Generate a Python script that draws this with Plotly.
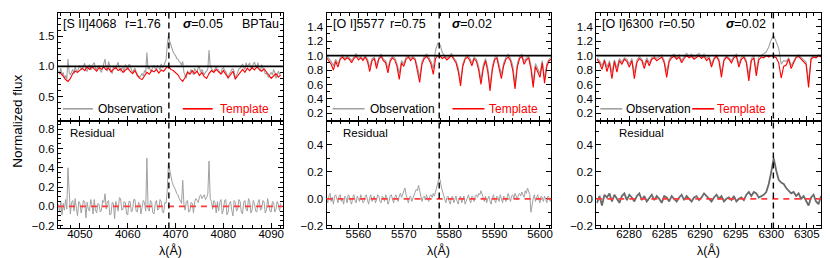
import numpy as np
import plotly.graph_objects as go

# ---------------- data ----------------
# Panel 1: [S II] 4068
obs1_start, obs1_step = 4045.5, 0.25
obs1 = [0.93, 0.88, 0.97, 0.85, 0.90, 0.80, 0.85, 0.78, 1.12, 0.90,
        0.86, 0.92, 0.95, 0.88, 0.99, 0.93, 0.91, 0.97, 1.02, 0.95,
        0.96, 1.01, 1.05, 0.93, 0.92, 0.99, 1.03, 0.94, 0.97, 1.04,
        1.06, 0.97, 0.94, 1.00, 1.01, 0.93, 0.90, 0.98, 1.04, 1.12,
        0.97, 0.92, 1.08, 0.99, 0.93, 0.88, 1.00, 0.96, 0.96, 1.02,
        1.07, 0.95, 0.92, 0.97, 0.98, 0.90, 1.03, 0.98, 0.95, 1.03,
        1.02, 0.95, 0.90, 0.94, 0.97, 0.91, 0.86, 0.83, 0.82, 0.86,
        0.88, 0.84, 0.93, 0.90, 1.23, 0.95, 0.99, 0.93, 0.94, 0.98,
        1.02, 0.96, 0.95, 1.01, 0.99, 0.94, 1.04, 0.98, 1.00, 1.06,
        1.10, 1.35, 1.50, 1.42, 1.35, 1.28, 1.24, 1.20, 1.18, 1.13,
        1.12, 1.08, 1.06, 1.02, 1.08, 0.90, 0.85, 0.80, 0.93, 0.88,
        0.90, 0.95, 0.90, 0.86, 0.97, 0.92, 0.91, 0.98, 0.98, 0.90,
        0.95, 0.91, 0.86, 0.90, 0.92, 0.96, 1.27, 1.00, 0.96, 0.93,
        0.92, 0.97, 1.00, 0.95, 0.94, 0.90, 0.89, 0.96, 0.98, 0.94,
        0.92, 0.86, 0.80, 0.88, 0.90, 0.95, 0.96, 0.92, 0.78, 0.85,
        0.91, 0.96, 0.97, 1.02, 1.04, 0.98, 0.95, 1.06, 0.99, 1.03,
        1.05, 0.98, 0.97, 1.04, 1.07, 1.01, 1.00, 1.06, 0.95, 0.92,
        1.03, 0.97, 0.94, 0.88, 0.88, 0.84, 0.82, 0.87, 0.90, 0.86,
        0.95, 0.90, 0.80, 0.85, 0.92, 0.87, 0.90]
tmpl1_start, tmpl1_step = 4045.5, 0.5
tmpl1 = [0.90, 0.88, 0.84, 0.78, 0.75, 0.80, 0.88, 0.92, 0.90, 0.94,
         0.97, 0.93, 0.99, 0.95, 1.00, 0.96, 0.92, 0.98, 0.95, 0.99,
         0.94, 0.97, 0.91, 0.95, 0.98, 0.93, 0.96, 0.90, 0.94, 0.97,
         0.92, 0.88, 0.93, 0.85, 0.80, 0.78, 0.84, 0.90, 0.87, 0.93,
         0.91, 0.95, 0.89, 0.94, 0.92, 0.97, 1.00, 0.95, 0.93, 0.90,
         0.86, 0.79, 0.75, 0.82, 0.90, 0.87, 0.93, 0.88, 0.92, 0.85,
         0.90, 0.83, 0.80, 0.88, 0.93, 0.90, 0.95, 0.91, 0.87, 0.93,
         0.88, 0.81, 0.86, 0.92, 0.79, 0.85, 0.91, 0.95, 0.90, 0.97,
         0.93, 0.98, 0.94, 0.99, 0.95, 0.92, 0.96, 0.90, 0.85, 0.80,
         0.84, 0.88, 0.82, 0.86]
res1_start, res1_step = 4045.5, 0.25
res1 = [0.02, -0.06, 0.05, -0.09, 0.03, -0.04, 0.07, -0.03, 0.40, 0.05,
        -0.08, 0.04, 0.06, -0.05, 0.08, -0.02, -0.10, 0.05, 0.03, -0.07,
        -0.02, 0.06, 0.05, -0.12, 0.04, -0.03, -0.05, 0.07, 0.02, -0.08,
        0.07, -0.04, -0.07, 0.03, 0.02, -0.06, -0.04, 0.06, 0.04, 0.13,
        -0.03, 0.05, 0.06, -0.09, -0.08, 0.04, 0.03, -0.13, 0.05, -0.02,
        -0.05, 0.09, 0.08, -0.04, -0.03, 0.05, 0.04, -0.08, -0.09, 0.05,
        0.05, -0.06, -0.04, 0.07, 0.07, -0.05, -0.06, 0.04, 0.03, -0.08,
        -0.02, 0.06, 0.04, -0.05, 0.50, -0.03, -0.05, 0.06, 0.04, -0.07,
        -0.08, 0.03, 0.06, -0.04, -0.03, 0.07, 0.05, -0.06, -0.07, 0.04,
        0.03, 0.15, 0.45, 0.38, 0.30, 0.26, 0.22, 0.20, 0.17, 0.13,
        0.12, 0.08, 0.06, 0.03, 0.27, 0.02, -0.04, 0.05, 0.06, -0.06,
        -0.05, 0.04, 0.03, -0.07, 0.05, 0.08, 0.06, 0.04, 0.10, 0.12,
        0.08, 0.10, 0.12, 0.07, 0.09, 0.13, 0.47, 0.08, 0.05, -0.03,
        0.06, 0.04, -0.07, 0.05, -0.05, 0.04, 0.07, -0.08, -0.04, 0.06,
        0.07, -0.09, -0.06, 0.03, 0.05, -0.04, -0.10, 0.06, 0.04, -0.05,
        -0.03, 0.07, 0.05, -0.06, -0.08, 0.04, 0.06, -0.03, -0.05, 0.08,
        0.05, -0.07, -0.04, 0.06, 0.03, -0.05, -0.06, 0.04, 0.07, -0.04,
        -0.03, 0.06, 0.05, -0.07, -0.04, 0.08, 0.03, -0.05, -0.06, 0.05,
        0.04, -0.06, -0.03, 0.05, 0.02, -0.05, 0.03]

# Panel 2: [O I] 5577
obs2_start, obs2_step = 5553.0, 0.5
obs2 = [1.00, 0.96, 0.92, 0.86, 0.95, 0.88, 0.97, 1.01, 0.96, 0.99,
        0.97, 0.93, 0.99, 1.03, 0.97, 0.99, 0.95, 1.00, 0.95, 0.84,
        0.96, 0.98, 0.87, 0.97, 1.02, 0.95, 0.93, 0.82, 0.95, 0.99,
        0.97, 0.89, 0.75, 0.93, 0.89, 0.98, 1.00, 0.96, 0.99, 0.96,
        0.85, 0.70, 0.92, 0.99, 1.02, 0.98, 0.92, 0.82, 1.08, 1.17,
        1.15, 1.04, 1.00, 0.97, 0.99, 1.03, 0.97, 0.93, 0.83, 0.64,
        0.89, 0.97, 1.01, 0.97, 0.90, 0.98, 0.95, 0.85, 0.66, 0.87,
        0.96, 0.83, 0.58, 0.85, 0.97, 1.00, 0.87, 0.74, 0.90, 0.98,
        1.02, 0.96, 0.86, 0.60, 0.89, 0.99, 1.02, 0.92, 0.97, 1.00,
        0.87, 0.62, 0.89, 0.82, 0.75, 0.93, 0.68, 0.89, 0.95, 0.98]
tmpl2_start, tmpl2_step = 5553.0, 0.5
tmpl2 = [0.97, 0.93, 0.88, 0.80, 0.92, 0.84, 0.95, 0.98, 0.94, 0.97,
         0.95, 0.90, 0.96, 0.99, 0.94, 0.97, 0.93, 0.98, 0.92, 0.78,
         0.93, 0.96, 0.82, 0.95, 0.99, 0.93, 0.90, 0.76, 0.92, 0.97,
         0.94, 0.85, 0.67, 0.90, 0.85, 0.95, 0.98, 0.93, 0.97, 0.94,
         0.80, 0.63, 0.88, 0.96, 0.99, 0.95, 0.88, 0.74, 0.96, 1.00,
         0.99, 0.96, 0.98, 0.94, 0.97, 1.00, 0.95, 0.90, 0.78, 0.58,
         0.85, 0.95, 0.98, 0.94, 0.86, 0.96, 0.92, 0.80, 0.60, 0.82,
         0.93, 0.78, 0.51, 0.80, 0.94, 0.97, 0.82, 0.68, 0.86, 0.95,
         0.98, 0.93, 0.80, 0.54, 0.84, 0.96, 0.99, 0.88, 0.94, 0.97,
         0.82, 0.56, 0.85, 0.78, 0.70, 0.90, 0.62, 0.85, 0.93, 0.95]
res2_start, res2_step = 5553.0, 0.25
res2 = [0.01, -0.03, 0.02, 0.04, -0.02, 0.01, -0.04, 0.02, 0.03, -0.01,
        -0.03, 0.02, 0.03, -0.02, 0.00, -0.04, 0.02, 0.01, -0.03, 0.03,
        0.02, -0.02, -0.04, 0.01, 0.03, -0.01, -0.03, 0.02, 0.00, -0.02,
        0.03, 0.01, -0.03, -0.02, 0.02, 0.03, -0.01, -0.04, 0.01, 0.03,
        -0.02, 0.01, 0.02, -0.03, -0.01, 0.03, 0.02, -0.02, -0.03, 0.02,
        0.01, -0.02, 0.03, 0.01, -0.04, -0.02, 0.02, 0.03, -0.01, -0.03,
        0.01, 0.03, 0.00, -0.02, 0.02, 0.04, 0.01, 0.03, 0.06, 0.08,
        0.03, 0.00, -0.03, 0.01, 0.02, -0.02, 0.01, 0.03, 0.05, 0.07,
        0.06, 0.10, 0.05, 0.02, -0.02, 0.01, 0.02, -0.01, 0.03, 0.00,
        -0.02, 0.02, 0.03, 0.01, 0.04, 0.02, 0.05, 0.07, 0.12, 0.16,
        0.14, 0.09, 0.05, 0.03, 0.00, -0.03, 0.01, 0.02, -0.02, -0.04,
        0.01, 0.02, -0.03, 0.00, 0.02, -0.02, -0.04, 0.01, 0.02, -0.03,
        -0.01, 0.02, -0.04, -0.02, 0.01, 0.03, -0.01, -0.03, 0.02, 0.01,
        -0.02, 0.02, 0.03, 0.01, 0.04, 0.03, 0.06, 0.03, 0.01, -0.02,
        0.02, -0.03, 0.00, 0.02, -0.02, -0.04, 0.01, 0.03, -0.01, -0.03,
        0.02, 0.01, -0.02, 0.03, 0.00, -0.03, 0.02, 0.01, -0.02, 0.02,
        0.04, 0.01, -0.02, 0.02, 0.03, 0.00, 0.04, 0.02, -0.01, 0.03,
        0.04, 0.02, 0.05, 0.03, 0.01, 0.06, 0.04, 0.08, 0.05, 0.03,
        -0.10, -0.04, 0.00, 0.03, -0.02, 0.01, 0.03, -0.01, -0.03, 0.02,
        0.01, -0.02, 0.02, 0.00, -0.03, 0.02, 0.01, -0.02, 0.01]

# Panel 3: [O I] 6300
obs3_start, obs3_step = 6275.5, 0.35
obs3 = [0.97, 0.93, 0.86, 0.95, 0.84, 0.93, 0.76, 0.94, 0.83, 0.96,
        0.91, 0.97, 0.95, 0.88, 0.96, 0.76, 0.93, 0.99, 0.95, 0.87,
        0.97, 0.90, 0.97, 0.99, 0.96, 0.98, 1.01, 0.93, 0.78, 0.95,
        1.00, 1.02, 0.97, 1.01, 0.93, 0.99, 1.03, 0.99, 1.02, 0.97,
        1.01, 1.03, 0.98, 1.02, 0.96, 0.99, 0.88, 0.97, 1.01, 0.95,
        0.77, 0.95, 1.00, 0.97, 0.93, 0.99, 1.02, 0.88, 0.98, 1.00,
        0.93, 0.73, 0.96, 1.00, 0.79, 0.98, 1.00, 1.02, 1.05, 1.12,
        1.22, 1.28, 1.19, 1.10, 0.88, 0.93, 0.92, 0.97, 0.86, 0.93,
        0.99, 1.01, 0.97, 0.94, 0.91, 0.64, 0.97, 1.00, 0.99, 1.01,
        1.00]
tmpl3_start, tmpl3_step = 6275.5, 0.35
tmpl3 = [0.95, 0.90, 0.81, 0.93, 0.78, 0.90, 0.68, 0.92, 0.77, 0.93,
         0.88, 0.95, 0.92, 0.84, 0.93, 0.68, 0.90, 0.96, 0.93, 0.82,
         0.94, 0.86, 0.95, 0.97, 0.93, 0.96, 0.98, 0.90, 0.70, 0.92,
         0.97, 0.99, 0.95, 0.98, 0.90, 0.96, 1.00, 0.97, 0.99, 0.95,
         0.98, 1.00, 0.96, 0.99, 0.93, 0.97, 0.84, 0.95, 0.99, 0.92,
         0.70, 0.93, 0.98, 0.95, 0.90, 0.97, 0.99, 0.84, 0.95, 0.98,
         0.90, 0.65, 0.93, 0.97, 0.72, 0.94, 0.98, 0.97, 1.00, 0.98,
         1.00, 0.99, 0.97, 0.90, 0.69, 0.85, 0.87, 0.95, 0.82, 0.90,
         0.97, 0.99, 0.95, 0.92, 0.88, 0.56, 0.95, 0.98, 0.97, 1.00,
         0.98]
res3_start, res3_step = 6275.5, 0.35
res3 = [-0.03, 0.02, -0.05, 0.03, 0.01, 0.04, -0.02, 0.03, 0.00, -0.03,
        0.02, 0.04, -0.01, 0.03, 0.01, -0.02, 0.02, 0.04, -0.01, 0.02,
        -0.02, 0.01, 0.03, -0.01, 0.02, 0.00, -0.03, 0.02, 0.01, -0.02,
        0.02, 0.00, -0.02, 0.01, 0.03, -0.01, 0.02, 0.00, -0.02, 0.01,
        0.02, -0.01, 0.01, 0.04, 0.02, 0.00, -0.02, 0.01, 0.03, 0.00,
        0.02, -0.02, 0.00, 0.01, -0.01, 0.02, -0.02, 0.00, 0.01, -0.01,
        0.03, 0.05, 0.02, 0.05, 0.04, 0.01, 0.02, 0.03, 0.05, 0.11,
        0.20, 0.30, 0.21, 0.14, 0.12, 0.11, 0.08, 0.06, 0.04, 0.05,
        0.02, 0.04, 0.00, 0.02, -0.01, -0.05, 0.01, 0.03, -0.02, -0.04,
        0.02]

line_labels = ["[S II]4068", "[O I]5577", "[O I]6300"]
line_centers = [4068.6, 5577.8, 6300.3]
r_values = ["1.76", "0.75", "0.50"]
sigma_values = ["0.05", "0.02", "0.02"]
star_name = "BPTau"

# ---------------- styling / layout ----------------
W, H = 830, 258
FONT = "Liberation Sans, Arial, Helvetica, sans-serif"
GRAY = "#a0a0a0"
RED = "#ff0000"


def grid(start, step, vals):
    return start + step * np.arange(len(vals))


panels = [
    dict(obs=(obs1_start, obs1_step, obs1), tmpl=(tmpl1_start, tmpl1_step, tmpl1),
         res=(res1_start, res1_step, res1),
         xr=[4045.4, 4092.4], xdt=10, xmin=2,
         ytop=[0.10, 1.885], ytdt=0.5, ytmin=0.1,
         ybot=[-0.23, 0.89], ybdt=0.2, ybmin=0.05,
         px=(50, 275), rescol=GRAY, resw=1.0,
         txt=[53, 115, 173, 232], leg=[55, 85, 88, 175, 205, 210], resx=60),
    dict(obs=(obs2_start, obs2_step, obs2), tmpl=(tmpl2_start, tmpl2_step, tmpl2),
         res=(res2_start, res2_step, res2),
         xr=[5553.0, 5602.5], xdt=10, xmin=2,
         ytop=[0.10, 1.59], ytdt=0.2, ytmin=0.1,
         ybot=[-0.22, 0.58], ybdt=0.2, ybmin=0.1,
         px=(319, 544), rescol=GRAY, resw=1.0,
         txt=[323, 380, 443, None], leg=[325, 357, 360, 445, 477, 480], resx=333),
    dict(obs=(obs3_start, obs3_step, obs3), tmpl=(tmpl3_start, tmpl3_step, tmpl3),
         res=(res3_start, res3_step, res3),
         xr=[6275.4, 6307.0], xdt=5, xmin=1,
         ytop=[0.10, 1.59], ytdt=0.2, ytmin=0.1,
         ybot=[-0.22, 0.58], ybdt=0.2, ybmin=0.1,
         px=(589, 814), rescol="#6a6a6a", resw=1.8,
         txt=[593, 650, 717, None], leg=[593, 615, 617, 685, 707, 708], resx=610),
]

TOP_Y = (5, 114)
BOT_Y = (114, 223)


def ydom(a, b):
    return [1 - b / H, 1 - a / H]


fig = go.Figure()
layout = dict(width=W, height=H, margin=dict(l=0, r=0, t=0, b=0),
              paper_bgcolor="white", plot_bgcolor="white", showlegend=False,
              font=dict(family=FONT, size=12, color="black"))
shapes = []
annotations = []

axis_common = dict(showline=True, linecolor="black", linewidth=1.3, mirror="allticks",
                   ticks="inside", ticklen=5, tickwidth=1, tickcolor="black",
                   showgrid=False, zeroline=False,
                   tickfont=dict(family=FONT, size=11.5, color="black"))

for c, p in enumerate(panels):
    it, ib = 2 * c + 1, 2 * c + 2
    xt = "x" if it == 1 else f"x{it}"
    yt = "y" if it == 1 else f"y{it}"
    xb, yb = f"x{ib}", f"y{ib}"
    xdom = [p["px"][0] / W, p["px"][1] / W]

    fig.add_trace(go.Scatter(x=grid(*p["obs"]), y=p["obs"][2], mode="lines", xaxis=xt, yaxis=yt,
                             line=dict(color=GRAY, width=1.1)))
    fig.add_trace(go.Scatter(x=grid(*p["tmpl"]), y=p["tmpl"][2], mode="lines", xaxis=xt, yaxis=yt,
                             line=dict(color=RED, width=1.1)))
    fig.add_trace(go.Scatter(x=grid(*p["res"]), y=p["res"][2], mode="lines", xaxis=xb, yaxis=yb,
                             line=dict(color=p["rescol"], width=p["resw"])))

    kt = "xaxis" if it == 1 else f"xaxis{it}"
    kyt = "yaxis" if it == 1 else f"yaxis{it}"
    layout[kt] = dict(axis_common, domain=xdom, anchor=yt, range=p["xr"], matches=xb,
                      showticklabels=False, dtick=p["xdt"], tick0=0,
                      minor=dict(ticks="inside", dtick=p["xmin"], ticklen=3, tickcolor="black"))
    layout[f"xaxis{ib}"] = dict(axis_common, domain=xdom, anchor=yb, range=p["xr"],
                                dtick=p["xdt"], tick0=0, ticklabelstandoff=-5,
                                minor=dict(ticks="inside", dtick=p["xmin"], ticklen=3, tickcolor="black"))
    layout[kyt] = dict(axis_common, domain=ydom(*TOP_Y), anchor=xt, range=p["ytop"],
                       dtick=p["ytdt"], tick0=0, tickformat=".1f",
                       minor=dict(ticks="inside", dtick=p["ytmin"], ticklen=3, tickcolor="black"))
    layout[f"yaxis{ib}"] = dict(axis_common, domain=ydom(*BOT_Y), anchor=xb, range=p["ybot"],
                                dtick=p["ybdt"], tick0=0, tickformat=".1f",
                                minor=dict(ticks="inside", dtick=p["ybmin"], ticklen=3, tickcolor="black"))

    # continuum line at 1.0
    shapes.append(dict(type="line", xref=f"{xt} domain", yref=yt, x0=0, x1=1, y0=1.0, y1=1.0,
                       line=dict(color="black", width=1.6)))
    # residual zero line
    shapes.append(dict(type="line", xref=f"{xb} domain", yref=yb, x0=0, x1=1, y0=0.0, y1=0.0,
                       line=dict(color="#ff3b3b", width=1.8, dash="6px,5px")))
    # line-centre marker spanning both panels
    shapes.append(dict(type="line", xref=xt, yref="paper", x0=line_centers[c], x1=line_centers[c],
                       y0=ydom(*BOT_Y)[0], y1=ydom(*TOP_Y)[1],
                       line=dict(color="black", width=1.4, dash="6px,4px")))

    # header texts
    tx = p["txt"]
    ty = 1 - 16 / H
    hdr = [line_labels[c], f"r={r_values[c]}", f"<b><i>σ</i></b>={sigma_values[c]}",
           star_name if tx[3] is not None else None]
    for xpos, t in zip(tx, hdr):
        if xpos is None or t is None:
            continue
        annotations.append(dict(x=xpos / W, y=ty, xref="paper", yref="paper", text=t,
                                showarrow=False, xanchor="left", yanchor="middle",
                                font=dict(size=12.5, family=FONT)))
    # legend
    lg = p["leg"]
    ly = 1 - 102 / H
    shapes.append(dict(type="line", xref="paper", yref="paper", x0=lg[0] / W, x1=lg[1] / W,
                       y0=ly, y1=ly, line=dict(color=GRAY, width=1.6)))
    annotations.append(dict(x=lg[2] / W, y=ly, xref="paper", yref="paper", text="Observation",
                            showarrow=False, xanchor="left", yanchor="middle",
                            font=dict(size=12, family=FONT)))
    shapes.append(dict(type="line", xref="paper", yref="paper", x0=lg[3] / W, x1=lg[4] / W,
                       y0=ly, y1=ly, line=dict(color=RED, width=1.6)))
    annotations.append(dict(x=lg[5] / W, y=ly, xref="paper", yref="paper", text="Template",
                            showarrow=False, xanchor="left", yanchor="middle",
                            font=dict(size=12, family=FONT, color=RED)))
    # residual label
    annotations.append(dict(x=p["resx"] / W, y=1 - 126 / H, xref="paper", yref="paper",
                            text="Residual", showarrow=False, xanchor="left", yanchor="middle",
                            font=dict(size=11.5, family=FONT)))
    # x-axis title
    annotations.append(dict(x=(p["px"][0] + p["px"][1]) / 2 / W, y=1 - 245 / H, xref="paper",
                            yref="paper", text="λ(Å)", showarrow=False, xanchor="center",
                            yanchor="middle", font=dict(size=12.5, family=FONT)))

annotations.append(dict(x=10 / W, y=1 - 114 / H, xref="paper", yref="paper",
                        text="Normalized flux", showarrow=False, textangle=-90,
                        xanchor="center", yanchor="middle", font=dict(size=13.5, family=FONT)))

layout["shapes"] = shapes
layout["annotations"] = annotations
fig.update_layout(**layout)
fig.write_html("out.html")
